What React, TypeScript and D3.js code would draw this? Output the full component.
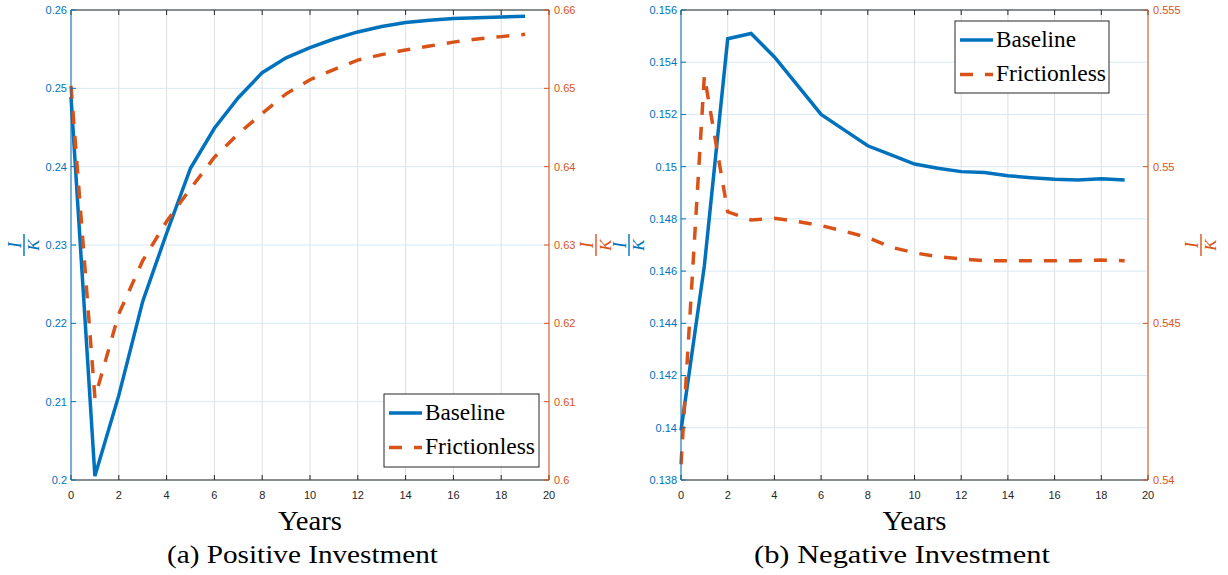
import React from "react";
import * as d3 from "d3";

// ---------- data ----------
const years = [0, 1, 2, 3, 4, 5, 6, 7, 8, 9, 10, 11, 12, 13, 14, 15, 16, 17, 18, 19];

// (a) Positive investment
const baselinePos = [0.2489, 0.2005, 0.2108, 0.2228, 0.2315, 0.2398, 0.2449, 0.2488, 0.252, 0.2539, 0.2552, 0.2563, 0.2572, 0.2579, 0.2584, 0.2587, 0.2589, 0.259, 0.2591, 0.2592];
const frictionlessPos = [0.6503, 0.6105, 0.6212, 0.628, 0.633, 0.6372, 0.6412, 0.6442, 0.6468, 0.6493, 0.6511, 0.6524, 0.6536, 0.6543, 0.6549, 0.6554, 0.6559, 0.6563, 0.6566, 0.6569];

// (b) Negative investment
const baselineNeg = [0.1399, 0.1462, 0.1549, 0.1551, 0.1542, 0.1531, 0.152, 0.1514, 0.1508, 0.15045, 0.1501, 0.14994, 0.14981, 0.14978, 0.14965, 0.14958, 0.14952, 0.14949, 0.14954, 0.14949];
const frictionlessNeg = [0.5405, 0.5529, 0.54856, 0.5483, 0.54835, 0.54825, 0.54812, 0.54794, 0.54774, 0.54743, 0.54725, 0.54713, 0.54706, 0.547, 0.547, 0.547, 0.547, 0.547, 0.54702, 0.547];

const xTicks = [0, 2, 4, 6, 8, 10, 12, 14, 16, 18, 20];
const posLeftTicks = [0.2, 0.21, 0.22, 0.23, 0.24, 0.25, 0.26];
const posRightTicks = [0.6, 0.61, 0.62, 0.63, 0.64, 0.65, 0.66];
const negLeftTicks = [0.138, 0.14, 0.142, 0.144, 0.146, 0.148, 0.15, 0.152, 0.154, 0.156];
const negRightTicks = [0.54, 0.545, 0.55, 0.555];

const seriesNames = ["Baseline", "Frictionless"];
const xLabel = "Years";
const captions = ["(a) Positive Investment", "(b) Negative Investment"];

// ---------- style ----------
const BLUE = "#0072BD";
const ORANGE = "#D95319";
const AXIS = "#262626";
const serifStyle = { fontFamily: '"Liberation Serif"' };
const tickStyle = { fontFamily: '"Liberation Sans"' };
const DASH = "13,12";
const LW = 3.5;

const fmt = (v: number) => String(+v.toFixed(4));

type PanelProps = {
  x0: number;
  x1: number;
  leftDomain: [number, number];
  rightDomain: [number, number];
  leftTicks: number[];
  rightTicks: number[];
  baseline: number[];
  frictionless: number[];
  legend: { x: number; y: number; w: number; h: number };
  leftLabelX: number;
  rightLabelX: number;
  caption: string;
  captionX: number;
  captionLen: number;
};

const TOP = 10;
const BOTTOM = 480;

function Frac({ x, y, color }: { x: number; y: number; color: string }) {
  return (
    <g transform={`translate(${x},${y}) rotate(-90)`} fill={color}>
      <text x={0} y={-3} textAnchor="middle" style={serifStyle} fontStyle="italic" fontSize={18}>
        I
      </text>
      <line x1={-11} x2={11} y1={0} y2={0} stroke={color} strokeWidth={1.4} />
      <text x={0} y={15} textAnchor="middle" style={serifStyle} fontStyle="italic" fontSize={17}>
        K
      </text>
    </g>
  );
}

function Panel(p: PanelProps) {
  const x = d3.scaleLinear().domain([0, 20]).range([p.x0, p.x1]);
  const yL = d3.scaleLinear().domain(p.leftDomain).range([BOTTOM, TOP]);
  const yR = d3.scaleLinear().domain(p.rightDomain).range([BOTTOM, TOP]);
  const lineL = d3
    .line<number>()
    .x((_, i) => x(years[i]))
    .y((d) => yL(d));
  const lineR = d3
    .line<number>()
    .x((_, i) => x(years[i]))
    .y((d) => yR(d));
  const tl = 5;
  const lg = p.legend;
  return (
    <g>
      {xTicks.map((t) => (
        <line key={"gx" + t} x1={x(t)} x2={x(t)} y1={TOP} y2={BOTTOM} stroke="#dfdfdf" strokeWidth={1} />
      ))}
      {p.leftTicks.map((t) => (
        <line key={"gy" + t} x1={p.x0} x2={p.x1} y1={yL(t)} y2={yL(t)} stroke="#d8e9f5" strokeWidth={1} />
      ))}
      <path d={lineL(p.baseline) || ""} fill="none" stroke={BLUE} strokeWidth={LW} strokeLinejoin="miter" />
      <path
        d={lineR(p.frictionless) || ""}
        fill="none"
        stroke={ORANGE}
        strokeWidth={LW}
        strokeDasharray={DASH}
        strokeLinejoin="miter"
      />
      <line x1={p.x0} x2={p.x1} y1={TOP} y2={TOP} stroke={AXIS} strokeWidth={1} />
      <line x1={p.x0} x2={p.x1} y1={BOTTOM} y2={BOTTOM} stroke={AXIS} strokeWidth={1} />
      {xTicks.map((t) => (
        <g key={"xt" + t}>
          <line x1={x(t)} x2={x(t)} y1={BOTTOM} y2={BOTTOM - tl} stroke={AXIS} strokeWidth={1} />
          <line x1={x(t)} x2={x(t)} y1={TOP} y2={TOP + tl} stroke={AXIS} strokeWidth={1} />
          <text x={x(t)} y={BOTTOM + 15} dy="0.35em" textAnchor="middle" style={tickStyle} fontSize={11} fill={AXIS}>
            {fmt(t)}
          </text>
        </g>
      ))}
      <line x1={p.x0} x2={p.x0} y1={TOP} y2={BOTTOM} stroke={BLUE} strokeWidth={1} />
      {p.leftTicks.map((t) => (
        <g key={"yl" + t}>
          <line x1={p.x0} x2={p.x0 + tl} y1={yL(t)} y2={yL(t)} stroke={BLUE} strokeWidth={1} />
          <text x={p.x0 - 4} y={yL(t)} dy="0.35em" textAnchor="end" style={tickStyle} fontSize={11} fill={BLUE}>
            {fmt(t)}
          </text>
        </g>
      ))}
      <line x1={p.x1} x2={p.x1} y1={TOP} y2={BOTTOM} stroke={ORANGE} strokeWidth={1} />
      {p.rightTicks.map((t) => (
        <g key={"yr" + t}>
          <line x1={p.x1} x2={p.x1 - tl} y1={yR(t)} y2={yR(t)} stroke={ORANGE} strokeWidth={1} />
          <text x={p.x1 + 5} y={yR(t)} dy="0.35em" textAnchor="start" style={tickStyle} fontSize={11} fill={ORANGE}>
            {fmt(t)}
          </text>
        </g>
      ))}
      <Frac x={p.leftLabelX} y={245} color={BLUE} />
      <Frac x={p.rightLabelX} y={245} color={ORANGE} />
      <text
        x={(p.x0 + p.x1) / 2}
        y={530}
        textAnchor="middle"
        style={serifStyle}
        fontSize={27}
        fill="#000"
        textLength={64}
        lengthAdjust="spacingAndGlyphs"
      >
        {xLabel}
      </text>
      <text
        x={p.captionX}
        y={563}
        textAnchor="middle"
        style={serifStyle}
        fontSize={26}
        fill="#000"
        textLength={p.captionLen}
        lengthAdjust="spacingAndGlyphs"
      >
        {p.caption}
      </text>
      <g>
        <rect x={lg.x} y={lg.y} width={lg.w} height={lg.h} fill="#fff" stroke={AXIS} strokeWidth={1} />
        <line x1={lg.x + 5} x2={lg.x + 38} y1={lg.y + 19} y2={lg.y + 19} stroke={BLUE} strokeWidth={LW} />
        <line
          x1={lg.x + 5}
          x2={lg.x + 38}
          y1={lg.y + 53.5}
          y2={lg.y + 53.5}
          stroke={ORANGE}
          strokeWidth={LW}
          strokeDasharray={DASH}
        />
        <text x={lg.x + 41} y={lg.y + 26} style={serifStyle} fontSize={23} fill="#000" textLength={80} lengthAdjust="spacingAndGlyphs">
          {seriesNames[0]}
        </text>
        <text x={lg.x + 41} y={lg.y + 59.5} style={serifStyle} fontSize={23} fill="#000" textLength={110} lengthAdjust="spacingAndGlyphs">
          {seriesNames[1]}
        </text>
      </g>
    </g>
  );
}

export default function App() {
  return (
    <svg
      width={1228}
      height={575}
      style={{ position: "absolute", left: 0, top: 0, background: "#fff" }}
      xmlns="http://www.w3.org/2000/svg"
    >
      <rect x={0} y={0} width={1228} height={575} fill="#fff" />
      <Panel
        x0={71}
        x1={549}
        leftDomain={[0.2, 0.26]}
        rightDomain={[0.6, 0.66]}
        leftTicks={posLeftTicks}
        rightTicks={posRightTicks}
        baseline={baselinePos}
        frictionless={frictionlessPos}
        legend={{ x: 384, y: 394, w: 155, h: 73 }}
        leftLabelX={24}
        rightLabelX={596}
        caption={captions[0]}
        captionX={302.5}
        captionLen={271}
      />
      <Panel
        x0={681}
        x1={1148}
        leftDomain={[0.138, 0.156]}
        rightDomain={[0.54, 0.555]}
        leftTicks={negLeftTicks}
        rightTicks={negRightTicks}
        baseline={baselineNeg}
        frictionless={frictionlessNeg}
        legend={{ x: 955, y: 21, w: 154, h: 72 }}
        leftLabelX={629}
        rightLabelX={1201}
        caption={captions[1]}
        captionX={902}
        captionLen={296}
      />
    </svg>
  );
}
